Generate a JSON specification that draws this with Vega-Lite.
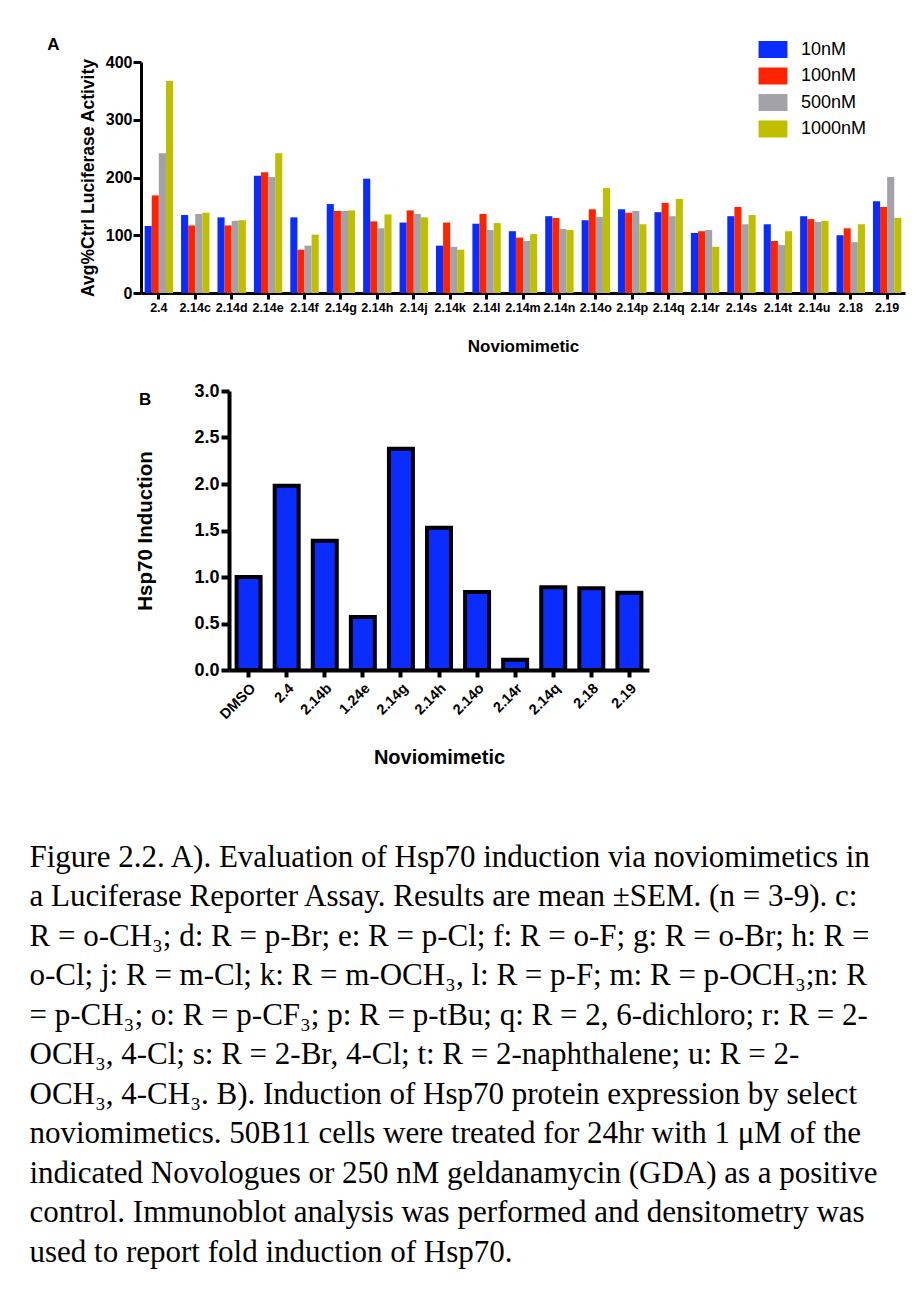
{
  "$schema": "https://vega.github.io/schema/vega-lite/v6.json",
  "padding": {"left": 29, "top": 36, "right": 10, "bottom": 5},
  "background": "white",
  "spacing": 27,
  "datasets": {
    "lucif": [
      {"compound": "2.4", "10nM": 116, "100nM": 169, "500nM": 242, "1000nM": 367},
      {"compound": "2.14c", "10nM": 135, "100nM": 117, "500nM": 137, "1000nM": 139},
      {"compound": "2.14d", "10nM": 131, "100nM": 117, "500nM": 125, "1000nM": 126},
      {"compound": "2.14e", "10nM": 203, "100nM": 209, "500nM": 201, "1000nM": 242},
      {"compound": "2.14f", "10nM": 131, "100nM": 75, "500nM": 82, "1000nM": 101},
      {"compound": "2.14g", "10nM": 154, "100nM": 142, "500nM": 142, "1000nM": 143},
      {"compound": "2.14h", "10nM": 198, "100nM": 124, "500nM": 112, "1000nM": 136},
      {"compound": "2.14j", "10nM": 122, "100nM": 143, "500nM": 137, "1000nM": 131},
      {"compound": "2.14k", "10nM": 82, "100nM": 122, "500nM": 80, "1000nM": 75},
      {"compound": "2.14l", "10nM": 120, "100nM": 137, "500nM": 109, "1000nM": 121},
      {"compound": "2.14m", "10nM": 107, "100nM": 96, "500nM": 90, "1000nM": 102},
      {"compound": "2.14n", "10nM": 133, "100nM": 130, "500nM": 111, "1000nM": 109},
      {"compound": "2.14o", "10nM": 126, "100nM": 145, "500nM": 132, "1000nM": 182},
      {"compound": "2.14p", "10nM": 145, "100nM": 139, "500nM": 142, "1000nM": 119},
      {"compound": "2.14q", "10nM": 140, "100nM": 156, "500nM": 133, "1000nM": 163},
      {"compound": "2.14r", "10nM": 104, "100nM": 107, "500nM": 109, "1000nM": 80},
      {"compound": "2.14s", "10nM": 133, "100nM": 149, "500nM": 119, "1000nM": 135},
      {"compound": "2.14t", "10nM": 119, "100nM": 90, "500nM": 83, "1000nM": 107},
      {"compound": "2.14u", "10nM": 133, "100nM": 128, "500nM": 123, "1000nM": 125},
      {"compound": "2.18", "10nM": 100, "100nM": 112, "500nM": 88, "1000nM": 119},
      {"compound": "2.19", "10nM": 159, "100nM": 149, "500nM": 201, "1000nM": 130}
    ],
    "hsp": [
      {"compound": "DMSO", "induction": 1.0},
      {"compound": "2.4", "induction": 1.98},
      {"compound": "2.14b", "induction": 1.39},
      {"compound": "1.24e", "induction": 0.57},
      {"compound": "2.14g", "induction": 2.38},
      {"compound": "2.14h", "induction": 1.53},
      {"compound": "2.14o", "induction": 0.84},
      {"compound": "2.14r", "induction": 0.11},
      {"compound": "2.14q", "induction": 0.89},
      {"compound": "2.18", "induction": 0.88},
      {"compound": "2.19", "induction": 0.83}
    ],
    "caption": [
      {"line": 1, "text": "Figure 2.2. A). Evaluation of Hsp70 induction via noviomimetics in"},
      {"line": 2, "text": "a Luciferase Reporter Assay.  Results are mean ±SEM. (n = 3-9). c:"},
      {"line": 3, "text": "R = o-CH₃; d: R = p-Br; e: R = p-Cl; f: R = o-F; g: R = o-Br; h: R ="},
      {"line": 4, "text": "o-Cl; j: R = m-Cl; k: R = m-OCH₃, l: R = p-F; m: R = p-OCH₃;n: R"},
      {"line": 5, "text": "= p-CH₃; o: R = p-CF₃; p: R = p-tBu; q: R = 2, 6-dichloro; r: R = 2-"},
      {"line": 6, "text": "OCH₃, 4-Cl; s: R = 2-Br, 4-Cl; t: R = 2-naphthalene; u: R = 2-"},
      {"line": 7, "text": "OCH₃, 4-CH₃. B). Induction of Hsp70 protein expression by select"},
      {"line": 8, "text": "noviomimetics. 50B11 cells were treated for 24hr with 1 μM of the"},
      {"line": 9, "text": "indicated Novologues or 250 nM geldanamycin (GDA) as a positive"},
      {"line": 10, "text": "control. Immunoblot analysis was performed and densitometry was"},
      {"line": 11, "text": "used to report fold induction of Hsp70."}
    ]
  },
  "vconcat": [
    {
      "spacing": 0,
      "hconcat": [
        {
          "width": 18, "height": 1,
          "data": {"values": [{"t": ""}]},
          "mark": {"type": "text"},
          "encoding": {"text": {"field": "t"}}
        },
        {
          "width": 764, "height": 231,
          "data": {"name": "lucif"},
          "transform": [{"fold": ["10nM", "100nM", "500nM", "1000nM"], "as": ["dose", "activity"]}],
          "title": {"text": "A", "anchor": "start", "frame": "bounds", "font": "Liberation Sans", "fontSize": 17, "fontWeight": "bold", "color": "black", "offset": 0, "dx": -32, "dy": 0},
          "mark": {"type": "bar"},
          "encoding": {
            "x": {
              "field": "compound", "type": "nominal", "sort": null,
              "scale": {"paddingInner": 0.22, "paddingOuter": 0.1},
              "title": "Noviomimetic",
              "axis": {"labelAngle": 0, "labelFontSize": 12.5, "labelPadding": 2, "labelOverlap": false, "tickSize": 6, "tickWidth": 3, "domainWidth": 3, "titleFontSize": 17, "titlePadding": 25}
            },
            "xOffset": {"field": "dose", "type": "nominal", "sort": ["10nM", "100nM", "500nM", "1000nM"], "scale": {"paddingInner": 0, "paddingOuter": 0}},
            "y": {
              "field": "activity", "type": "quantitative",
              "scale": {"domain": [0, 400], "nice": false},
              "title": "Avg%Ctrl Luciferase Activity",
              "axis": {"values": [0, 100, 200, 300, 400], "domainWidth": 3, "tickWidth": 3, "tickSize": 8, "labelFontSize": 16, "labelPadding": 1, "titleFontSize": 17.5, "titlePadding": 8}
            },
            "color": {
              "field": "dose", "type": "nominal",
              "sort": ["10nM", "100nM", "500nM", "1000nM"],
              "scale": {"domain": ["10nM", "100nM", "500nM", "1000nM"], "range": ["#0a2cff", "#ff2400", "#a2a2a8", "#bfbf00"]},
              "legend": {"title": null, "orient": "none", "legendX": 735, "legendY": -21.5, "symbolType": "M-1.7,-1H1.7V1H-1.7Z", "symbolSize": 289, "symbolStrokeWidth": 0, "symbolOpacity": 1, "labelFontSize": 18, "labelFont": "Liberation Sans", "labelFontWeight": "normal", "labelColor": "black", "labelOffset": 19, "rowPadding": 8.5, "padding": 0}
            }
          }
        }
      ]
    },
    {
      "spacing": 0,
      "hconcat": [
        {
          "width": 106, "height": 1,
          "data": {"values": [{"t": ""}]},
          "mark": {"type": "text"},
          "encoding": {"text": {"field": "t"}}
        },
        {
          "width": 420, "height": 279,
          "data": {"name": "hsp"},
          "title": {"text": "B", "anchor": "start", "frame": "bounds", "font": "Liberation Sans", "fontSize": 17, "fontWeight": "bold", "color": "black", "offset": 0, "dx": 3, "dy": 27},
          "mark": {"type": "bar", "color": "#0a2cff", "stroke": "black", "strokeWidth": 4},
          "encoding": {
            "x": {
              "field": "compound", "type": "nominal", "sort": null,
              "scale": {"paddingInner": 0.37, "paddingOuter": 0.2},
              "title": "Noviomimetic",
              "axis": {"labelAngle": -45, "labelFontSize": 14.5, "labelPadding": 4, "labelOverlap": false, "tickSize": 7, "tickWidth": 4, "domainWidth": 4, "titleFontSize": 20, "titlePadding": 26}
            },
            "y": {
              "field": "induction", "type": "quantitative",
              "scale": {"domain": [0, 3], "nice": false},
              "title": "Hsp70 Induction",
              "axis": {"values": [0, 0.5, 1, 1.5, 2, 2.5, 3], "format": ".1f", "domainWidth": 4, "tickWidth": 4, "tickSize": 8, "labelFontSize": 18, "labelPadding": 2, "titleFontSize": 20.5, "titlePadding": 38}
            }
          }
        }
      ]
    },
    {
      "width": 1, "height": 490,
      "data": {"name": "caption"},
      "mark": {"type": "text", "align": "left", "baseline": "middle", "font": "Liberation Serif", "fontSize": 31, "color": "black"},
      "encoding": {
        "y": {"field": "line", "type": "quantitative", "scale": {"domain": [-0.585, 11.82], "reverse": true, "nice": false, "zero": false}, "axis": null},
        "text": {"field": "text"}
      }
    }
  ],
  "config": {
    "view": {"stroke": null},
    "font": "Liberation Sans",
    "axis": {
      "labelFont": "Liberation Sans", "titleFont": "Liberation Sans",
      "labelFontWeight": "bold", "titleFontWeight": "bold",
      "labelColor": "black", "titleColor": "black",
      "domainColor": "black", "tickColor": "black", "grid": false
    }
  }
}
